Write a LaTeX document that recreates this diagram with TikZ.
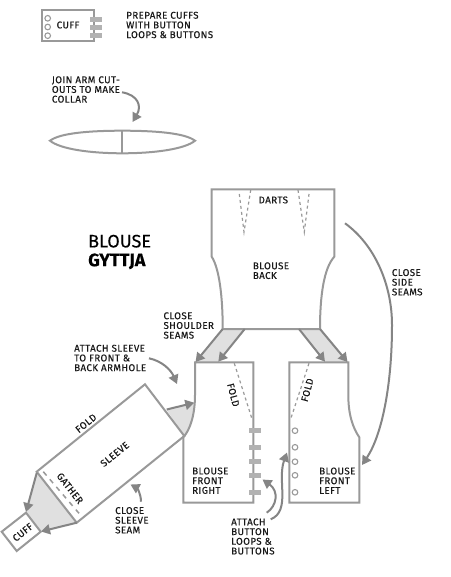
\documentclass[tikz,border=0pt]{standalone}
\usepackage{fontspec}
\setmainfont{Fira Sans}[FakeBold=0.25,LetterSpace=4]
\newfontfamily\bigfont{Fira Sans}[FakeBold=0.15]
\usetikzlibrary{arrows.meta}
\definecolor{ln}{gray}{0.60}
\definecolor{lnd}{gray}{0.52}
\definecolor{fl}{gray}{0.88}
\definecolor{tb}{gray}{0.70}
\tikzset{
 x=1pt,y=-1pt,
 outline/.style={draw=ln,line width=2pt,line join=miter},
 seamfill/.style={fill=fl,draw=none},
 dartline/.style={draw=ln,line width=1.2pt,dash pattern=on 3pt off 3pt},
 gatherline/.style={draw=ln,line width=1.5pt,dash pattern=on 5pt off 5pt},
 flow/.style={draw=lnd,line width=2pt,-{Triangle[length=9pt,width=10pt]}},
 tabbar/.style={fill=tb,draw=none,minimum width=12pt,minimum height=5pt,inner sep=0pt},
 buttonhole/.style={circle,draw=ln,line width=1.1pt,fill=white,minimum size=5.6pt,inner sep=0pt},
 lab/.style={font=\fontsize{9.8}{9.7}\selectfont,text=black!90,inner sep=0pt,align=left,anchor=west},
 clab/.style={font=\fontsize{9.8}{9.7}\selectfont,text=black!90,inner sep=0pt,anchor=center},
 big/.style={font=\bigfont\fontsize{18}{18.8}\selectfont,text=black,inner sep=0pt,align=left,anchor=west},
}
\begin{document}
\begin{tikzpicture}
\useasboundingbox (0,0) rectangle (450,577);
\fill[white] (0,0) rectangle (450,577);

% top cuff
\draw[outline] (42.3,10) rectangle (94.3,41.3);
\node[tabbar] (ta) at (96,19.3) {};
\node[tabbar] (tb) at (96,27.7) {};
\node[tabbar] (tc) at (96,36) {};
\node[buttonhole] (ca) at (47.7,18.3) {};
\node[buttonhole] (cb) at (47.7,27) {};
\node[buttonhole] (cc) at (47.7,35.7) {};
\node[clab] (cufftop) at (68,25) {CUFF};
\node[lab] (prep) at (126,25) {PREPARE CUFFS\\WITH BUTTON\\LOOPS \& BUTTONS};

% collar
\node[lab] (join) at (51.7,89.5) {JOIN ARM CUT-\\OUTS TO MAKE\\COLLAR};
\coordinate (ja) at (122,92.3);
\coordinate (jb) at (132.5,122);
\draw[flow] (ja) .. controls (138,95) and (142,106) .. (jb);
\draw[outline] (50,140.7) .. controls (60,133) and (90,130.7) .. (122.3,130.7) .. controls (155,130.7) and (185,133) .. (195,140.7) .. controls (185,149) and (155,153.3) .. (122.3,153.3) .. controls (90,153.3) and (60,149) .. (50,140.7) -- cycle;
\draw[outline] (122.3,130.7) -- (122.3,153.3);

% shoulder fills
\fill[seamfill] (222.7,329) -- (244.7,329) -- (218.3,362.3) -- (195,362.3) -- cycle;
\fill[seamfill] (299,329) -- (320,329) -- (347.7,362.3) -- (325,362.3) -- cycle;

% back
\draw[outline] (211.7,189.3) -- (334.3,189.3) -- (334.3,256.7) .. controls (324,268) and (320,295) .. (320,329) -- (222.7,329) .. controls (222.7,295) and (219,268) .. (211.7,256.7) -- cycle;
\draw[dartline] (239.3,194) -- (244,232) -- (250.7,190);
\draw[dartline] (298,190) -- (304.3,232) -- (309,194);
\node[clab] (darts) at (273.3,200) {DARTS};
\node[lab] (back) at (252.7,270.7) {BLOUSE\\BACK};
\node[lab] (shoulder) at (163.3,325.5) {CLOSE\\SHOULDER\\SEAMS};

% front panels
\path[fill=fl] (166.7,410) -- (194.6,402.7) .. controls (192,420) and (189,430) .. (184.3,436) -- cycle;
\draw[outline] (195,362.3) -- (253.3,362.3) -- (253.3,502.7) -- (183.3,502.7) -- (183.3,437.3) .. controls (190,430) and (195,415) .. (195,395) -- cycle;
\draw[outline] (289.3,362.3) -- (348.3,362.3) -- (348.3,395) .. controls (348.3,415) and (353,428) .. (359.3,437.3) -- (359.3,502.7) -- (289.3,502.7) -- cycle;
\draw[dartline] (234.3,363.3) -- (252,419);
\draw[dartline] (309,363.3) -- (290.7,419);
\node[clab,rotate=-75] (foldr) at (233.3,395) {FOLD};
\node[clab,rotate=75] (foldl) at (307.3,390) {FOLD};

\foreach \n/\y in {a/430.7,b/447.3,c/461.7,d/475.3,e/492.3}{
  \node[tabbar] (loop\n) at (255,\y) {};
  \node[buttonhole] (btn\n) at (295,\y) {};
}
\node[lab] (frontr) at (192,480.7) {BLOUSE\\FRONT\\RIGHT};
\node[lab] (frontl) at (319,480.7) {BLOUSE\\FRONT\\LEFT};

% shoulder arrows
\coordinate (sa1) at (222.7,329); \coordinate (sa2) at (195.5,362);
\coordinate (sb1) at (244.7,329); \coordinate (sb2) at (218.3,361.7);
\coordinate (sc1) at (299,329);   \coordinate (sc2) at (325,361.7);
\coordinate (sd1) at (320,329);   \coordinate (sd2) at (347.5,362);
\draw[flow] (sa1) -- (sa2);
\draw[flow] (sb1) -- (sb2);
\draw[flow] (sc1) -- (sc2);
\draw[flow] (sd1) -- (sd2);

% side seam arrow
\coordinate (sid1) at (345,223.3);
\coordinate (sid2) at (362,465);
\draw[flow] (sid1) .. controls (375,245) and (392,285) .. (392,325) .. controls (392,385) and (382,435) .. (sid2);
\node[lab] (side) at (391.7,282.3) {CLOSE\\SIDE\\SEAMS};

% sleeve
\fill[seamfill] (36.7,473) -- (76.7,522.7) -- (40.7,531.7) -- (26,512.7) -- cycle;
\draw[outline] (145,384.3) -- (184.3,436) -- (76.7,522.7) -- (36.7,471.7) -- cycle;
\draw[gatherline] (43.3,471.7) -- (79,513.3);
\node[clab,rotate=-52] (gather) at (70,488.3) {GATHER};
\node[clab,rotate=39] (fold) at (86,423.3) {FOLD};
\node[clab,rotate=39] (slv) at (114.7,454.3) {SLEEVE};

\coordinate (am1) at (166.7,409.5); \coordinate (am2) at (194.3,402.7);
\draw[flow] (am1) -- (am2);
\coordinate (g1) at (36.7,473); \coordinate (g2) at (26,512);
\coordinate (g3) at (76.7,522.7); \coordinate (g4) at (41,531.5);
\draw[flow] (g1) -- (g2);
\draw[flow] (g3) -- (g4);

% sleeve cuff
\draw[outline,fill=white] (26,512.7) -- (40.7,531.7) -- (16.7,551) -- (1.7,531.7) -- cycle;
\node[clab,rotate=39] (cuffb) at (22.7,532.3) {CUFF};

% labels and curved arrows
\node[lab] (attach) at (74,358) {ATTACH SLEEVE\\TO FRONT \&\\BACK ARMHOLE};
\coordinate (at1) at (149,358.3); \coordinate (at2) at (177,384);
\draw[flow] (at1) .. controls (162,361) and (171,370) .. (at2);

\node[lab] (seam) at (115,520.3) {CLOSE\\SLEEVE\\SEAM};
\coordinate (cs1) at (141,501.7); \coordinate (cs2) at (130.5,484.5);
\draw[flow] (cs1) .. controls (141,494) and (137,488) .. (cs2);

\node[big] (bl) at (88,252) {BLOUSE\\\textbf{GYTTJA}};

\node[lab] (btns) at (231,536.5) {ATTACH\\BUTTON\\LOOPS \&\\BUTTONS};
\coordinate (ba1) at (266.7,512.7); \coordinate (ba2) at (262.5,479.5);
\draw[flow] (ba1) .. controls (277,506) and (279,491) .. (ba2);
\coordinate (bb1) at (270.7,519.3); \coordinate (bb2) at (287,452.5);
\draw[flow] (bb1) .. controls (291,511) and (277,480) .. (bb2);
\end{tikzpicture}
\end{document}
